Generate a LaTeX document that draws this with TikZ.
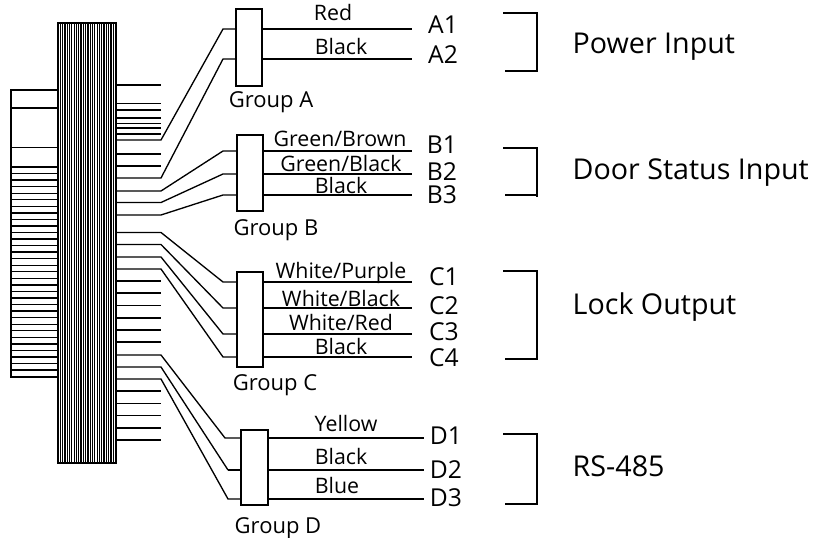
\documentclass[tikz,border=0pt]{standalone}
\usepackage{fontspec}
\setmainfont{Open Sans}
\tikzset{every picture/.style={line width=1pt}}
\tikzset{
	groupbox/.style={draw,fill=white,inner sep=0pt,minimum width=19.5pt},
	wirelabel/.style={anchor=base,inner sep=0pt,font=\fontsize{16}{18}\selectfont},
	grouplabel/.style={anchor=base,inner sep=0pt,font=\fontsize{16.5}{18}\selectfont},
	termlabel/.style={anchor=base,inner sep=0pt,font=\fontsize{18.5}{20}\selectfont},
	funclabel/.style={anchor=base west,inner sep=0pt,font=\fontsize{21.5}{24}\selectfont}
}
\begin{document}
\begin{tikzpicture}[x=0.75pt,y=0.75pt,yscale=-1]
	\useasboundingbox (0,0) rectangle (813,538);

	%Connector body
	\draw (11,90) rectangle (58,377);
	\foreach \y in {108,147.5} \draw (11,\y) -- (58,\y);
	\foreach \y in {167,173.55,...,372} \draw (11,\y) -- (58,\y);
	\draw (58,23) rectangle (116,463);
	\foreach \x in {60.3,62.6,...,115} \draw [line width=0.9pt] (\x,23) -- (\x,463);

	%Loose stubs
	\foreach \y in {85,103.5,110,118,123.5,128,134,154,166,281,293,305.5,318,330,342,391,403.5,415.5,428,440}
		\draw (116,\y) -- (161,\y);

	%Group boxes
	\node [groupbox,minimum height=57.75pt] (groupA) at (249,47.5) {};
	\node [groupbox,minimum height=57pt] (groupB) at (250,173) {};
	\node [groupbox,minimum height=71.25pt] (groupC) at (250,319.5) {};
	\node [groupbox,minimum height=56.25pt,minimum width=20.25pt] (groupD) at (254.5,467.5) {};

	%Wire ends
	\coordinate (endA1) at (412,29);
	\coordinate (endA2) at (412,59);
	\coordinate (endB1) at (412,151);
	\coordinate (endB2) at (412,174);
	\coordinate (endB3) at (412,195);
	\coordinate (endC1) at (412,282);
	\coordinate (endC2) at (412,308);
	\coordinate (endC3) at (412,334);
	\coordinate (endC4) at (412,357);
	\coordinate (endD1) at (424,438);
	\coordinate (endD2) at (424,470);
	\coordinate (endD3) at (424,499);

	%Wires into and out of the groups
	\foreach \g/\e/\sx/\sy/\bx in {
		groupA/endA1/116/140/223,
		groupA/endA2/116/178/223,
		groupB/endB1/116/191/223,
		groupB/endB2/116/202.5/223,
		groupB/endB3/116/215/223,
		groupC/endC1/116/232.5/223,
		groupC/endC2/116/244.5/223,
		groupC/endC3/116/257/223,
		groupC/endC4/116/269/223,
		groupD/endD3/116/379/228}
	{
		\draw (\sx,\sy) -- (161,\sy) -- (\bx,0 |- \e) -- (\g.west |- \e);
		\draw (\g.east |- \e) -- (\e);
	}
	\draw (116,355) -- (161,355) -- (225,438) -- (groupD.west |- endD1);
	\draw [line width=1.5pt] (groupD.east |- endD1) -- (endD1);
	\draw (116,367) -- (161,367) -- (228,470);
	\draw [line width=1.5pt] (228,470) -- (groupD.west |- endD2);
	\draw [line width=1.5pt] (groupD.east |- endD2) -- (endD2);

	%Brackets
	\draw (503,13) -- (537,13) -- (537,71) -- (505,71);
	\draw (503,148) -- (537,148) -- (537,197);
	\draw (505,195) -- (537,195);
	\draw (503,271) -- (537,271) -- (537,359) -- (505,359);
	\draw (503,434) -- (537,434) -- (537,504) -- (505,504);

	% Text Node
	\node [wirelabel] (wireA1) at (333,21) {Red};
	\node [wirelabel] (wireA2) at (341,55) {Black};
	\node [wirelabel] (wireB1) at (340,147) {Green/Brown};
	\node [wirelabel] (wireB2) at (341,172) {Green/Black};
	\node [wirelabel] (wireB3) at (341,194) {Black};
	\node [wirelabel] (wireC1) at (341,278) {White/Purple};
	\node [wirelabel] (wireC2) at (341,306) {White/Black};
	\node [wirelabel] (wireC3) at (341,330) {White/Red};
	\node [wirelabel] (wireC4) at (341,354) {Black};
	\node [wirelabel] (wireD1) at (346,431) {Yellow};
	\node [wirelabel] (wireD2) at (341,464) {Black};
	\node [wirelabel] (wireD3) at (337,493) {Blue};
	% Text Node
	\node [grouplabel] (nameA) at (271,108) {Group A};
	\node [grouplabel] (nameB) at (276,236) {Group B};
	\node [grouplabel] (nameC) at (275,390) {Group C};
	\node [grouplabel] (nameD) at (278,533) {Group D};
	% Text Node
	\node [termlabel] (termA1) at (443,34) {A1};
	\node [termlabel] (termA2) at (443,64) {A2};
	\node [termlabel] (termB1) at (442,154) {B1};
	\node [termlabel] (termB2) at (442,181) {B2};
	\node [termlabel] (termB3) at (442,204) {B3};
	\node [termlabel] (termC1) at (444,285) {C1};
	\node [termlabel] (termC2) at (444,314) {C2};
	\node [termlabel] (termC3) at (444,340) {C3};
	\node [termlabel] (termC4) at (444,366) {C4};
	\node [termlabel] (termD1) at (446,444) {D1};
	\node [termlabel] (termD2) at (446,478) {D2};
	\node [termlabel] (termD3) at (446,506) {D3};
	% Text Node
	\node [funclabel] (funcA) at (572,54) {Power Input};
	\node [funclabel] (funcB) at (572,180) {Door Status Input};
	\node [funclabel] (funcC) at (572,314) {Lock Output};
	\node [funclabel] (funcD) at (572,476) {RS-485};
\end{tikzpicture}
\end{document}
